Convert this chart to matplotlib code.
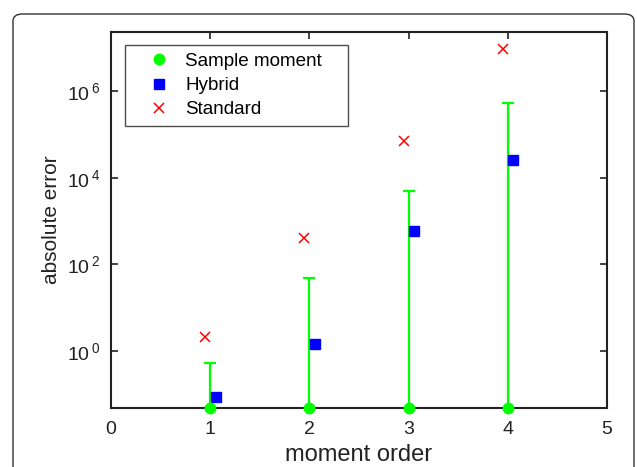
import matplotlib
matplotlib.use("Agg")
import matplotlib.pyplot as plt
from matplotlib.patches import FancyBboxPatch
import numpy as np

plt.rcParams["font.family"] = ["Liberation Sans", "DejaVu Sans"]
plt.rcParams["mathtext.fontset"] = "custom"
plt.rcParams["mathtext.rm"] = "Liberation Sans"

# data
order = [1, 2, 3, 4]
sample_moment = [0.0484, 0.0484, 0.0484, 0.0484]   # sits on the lower axis limit
sample_upper = [0.53, 48, 4.9e3, 5.3e5]
hybrid = [0.087, 1.45, 586, 2.55e4]
standard = [2.1, 405, 7.0e4, 9.3e6]

yticks = [1e0, 1e2, 1e4, 1e6]
ytick_labels = [r"$\mathregular{10^{\,0}}$", r"$\mathregular{10^{\,2}}$",
                r"$\mathregular{10^{\,4}}$", r"$\mathregular{10^{\,6}}$"]

W, H = 637, 467
fig = plt.figure(figsize=(W / 100, H / 100), dpi=100)
ax = fig.add_axes([111 / W, 1 - 408 / H, (607 - 111) / W, (408 - 32) / H])

x = np.array(order, dtype=float)
y0 = np.array(sample_moment)
err_hi = np.array(sample_upper) - y0
ax.errorbar(x, y0, yerr=[np.zeros_like(y0), err_hi], fmt="none",
            ecolor=(0, 1, 0), elinewidth=1.6, capsize=4, capthick=1.6)
ax.plot(x, y0, "o", color=(0, 1, 0), markersize=7.5, clip_on=False,
        zorder=5, label="Sample moment")
ax.plot(x + 0.055, hybrid, "s", color=(0, 0, 1), markersize=6.5,
        linestyle="none", label="Hybrid")
ax.plot(x - 0.05, standard, "x", color=(1, 0, 0), markersize=7,
        markeredgewidth=1.1, linestyle="none", label="Standard")

ax.set_yscale("log")
ax.set_xlim(0, 5)
ax.set_ylim(0.0484, 2.3e7)
ax.set_xticks([0, 1, 2, 3, 4, 5])
ax.set_yticks(yticks)
ax.set_yticklabels(ytick_labels)
ax.minorticks_off()
ax.tick_params(direction="in", length=5, width=1.2, top=True, right=True,
               labelsize=14, colors="#222222")
ax.tick_params(axis="x", pad=9)
ax.tick_params(axis="y", pad=8)
for s in ax.spines.values():
    s.set_linewidth(1.5)
    s.set_color("#222222")

ax.set_xlabel("moment order", fontsize=17, color="#222222", labelpad=5)
ax.set_ylabel("absolute error", fontsize=15, color="#222222", labelpad=4)

leg = ax.legend(loc="upper left", bbox_to_anchor=(0.028, 0.765, 0.45, 0.2),
                mode="expand", borderaxespad=0, fontsize=13.6,
                frameon=True, fancybox=False, edgecolor="#222222",
                handlelength=2.77, handletextpad=0.02, borderpad=0.4,
                labelspacing=0.37, numpoints=1)
leg.get_frame().set_linewidth(1.0)

frame = FancyBboxPatch((13 / W, -0.05), (634 - 13) / W, (1 - 14 / H) + 0.05,
                       boxstyle="round,pad=0,rounding_size=0.015",
                       transform=fig.transFigure, fill=False,
                       edgecolor="#333333", linewidth=1.0, clip_on=False)
fig.patches.append(frame)

fig.savefig("out.png", dpi=100)
